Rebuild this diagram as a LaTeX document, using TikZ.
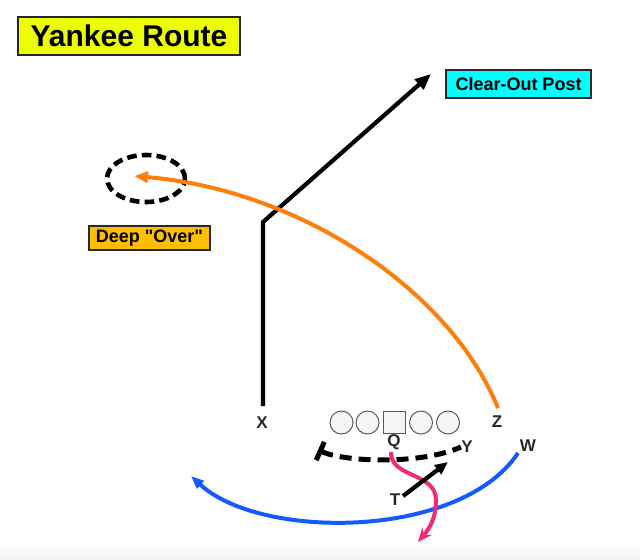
\documentclass[tikz,border=0pt]{standalone}
\usepackage{fontspec}
\setmainfont{Liberation Sans}[Ligatures=TeXOff]
\definecolor{fbyellow}{RGB}{236,255,0}
\definecolor{fbcyan}{RGB}{0,255,255}
\definecolor{fbamber}{RGB}{255,190,0}
\definecolor{fborange}{RGB}{255,125,10}
\definecolor{fbblue}{RGB}{20,90,255}
\definecolor{fbpink}{RGB}{238,45,120}
\definecolor{fbink}{RGB}{40,40,40}
\usetikzlibrary{arrows.meta,shapes.geometric}

\tikzset{
  labelbox/.style={draw=fbink, line width=0.6pt, inner sep=0pt, font=\fontsize{9}{9}\selectfont\bfseries},
  player/.style={font=\fontsize{8.5}{8.5}\selectfont\bfseries, text=fbink, inner sep=0pt},
  lineman/.style={circle, draw=gray!70!black, line width=0.5pt, fill=gray!8, minimum size=11.5pt, inner sep=0pt},
  center/.style={rectangle, draw=gray!70!black, line width=0.5pt, fill=gray!8, minimum size=11pt, inner sep=0pt},
  route/.style={line width=2.1pt, line join=miter},
}

\begin{document}
\begin{tikzpicture}[x=0.5pt, y=-0.5pt]

\useasboundingbox (0,0) rectangle (640,559);
\shade[top color=white, bottom color=gray!10] (0,540) rectangle (640,559);

% === Title ===
\node[labelbox, fill=fbyellow, minimum width=111pt, minimum height=19pt,
      font=\fontsize{15}{15}\selectfont\bfseries] (title) at (129,36) {Yankee Route};

% === Labels ===
\node[labelbox, fill=fbcyan, minimum width=72.5pt, minimum height=14pt] (postlbl) at (518.5,84) {Clear-Out Post};
\node[labelbox, fill=fbamber, minimum width=60.5pt, minimum height=12pt] (overlbl) at (149.5,238) {Deep "Over"};

% === Landing zone ===
\node[ellipse, draw=black, line width=2.3pt, dash pattern=on 4.8pt off 2.6pt,
      minimum width=39pt, minimum height=23.5pt, inner sep=0pt] (zone) at (146,178.5) {};

% === Offensive line ===
\node[lineman] (lt) at (341.5,422.5) {};
\node[lineman] (lg) at (367.5,422.5) {};
\node[center]  (c)  at (394,422.5) {};
\node[lineman] (rg) at (421,422.5) {};
\node[lineman] (rt) at (448,422.5) {};

% === Players ===
\node[player] (X) at (262,423) {X};
\node[player] (Z) at (497,422) {Z};
\node[player] (W) at (528,446) {W};
\node[player] (Y) at (467,447) {Y};
\node[player] (Q) at (394,442) {Q};
\node[player] (T) at (395,500) {T};

% === Route points ===
\coordinate (xstart) at (263,406);
\coordinate (xbreak) at (263,222);
\coordinate (xend)   at (431,74);
\coordinate (zstart) at (498,408);
\coordinate (zend)   at (134,176);
\coordinate (wstart) at (518,453);
\coordinate (wend)   at (191,476);
\coordinate (pstart) at (318,450);
\coordinate (pend)   at (461,447);
\coordinate (qstart) at (391,452);
\coordinate (qend)   at (418,542);
\coordinate (tstart) at (403,496);
\coordinate (tend)   at (448,462);

% === Routes ===
% X: clear-out post
\draw[route, black, -{Triangle[length=8pt, width=6.5pt]}] (xstart) -- (xbreak) -- (xend);
% Z: deep over
\draw[route, fborange, line width=2pt, -{Triangle[length=7pt, width=5.5pt]}]
  (zstart) .. controls (450,290) and (300,190) .. (zend);
% W: swing
\draw[route, fbblue, line width=2pt, -{Triangle[length=6.5pt, width=5pt]}]
  (wstart) .. controls (460,540) and (260,540) .. (wend);
% protection
\draw[route, black, line width=2.5pt, dash pattern=on 6pt off 3.5pt, {Bar[width=10pt, line width=2.5pt]}-]
  (pstart) .. controls (345,462) and (420,465) .. (pend);
% Q: bootleg drop
\draw[route, fbpink, line width=2pt, -{Stealth[length=7pt, width=6pt]}]
  (qstart) .. controls (390,478) and (436,472) .. (436,500)
           .. controls (436,520) and (428,530) .. (qend);
% T: check release
\draw[route, black, -{Triangle[length=6.5pt, width=5.5pt]}] (tstart) -- (tend);

\end{tikzpicture}
\end{document}
